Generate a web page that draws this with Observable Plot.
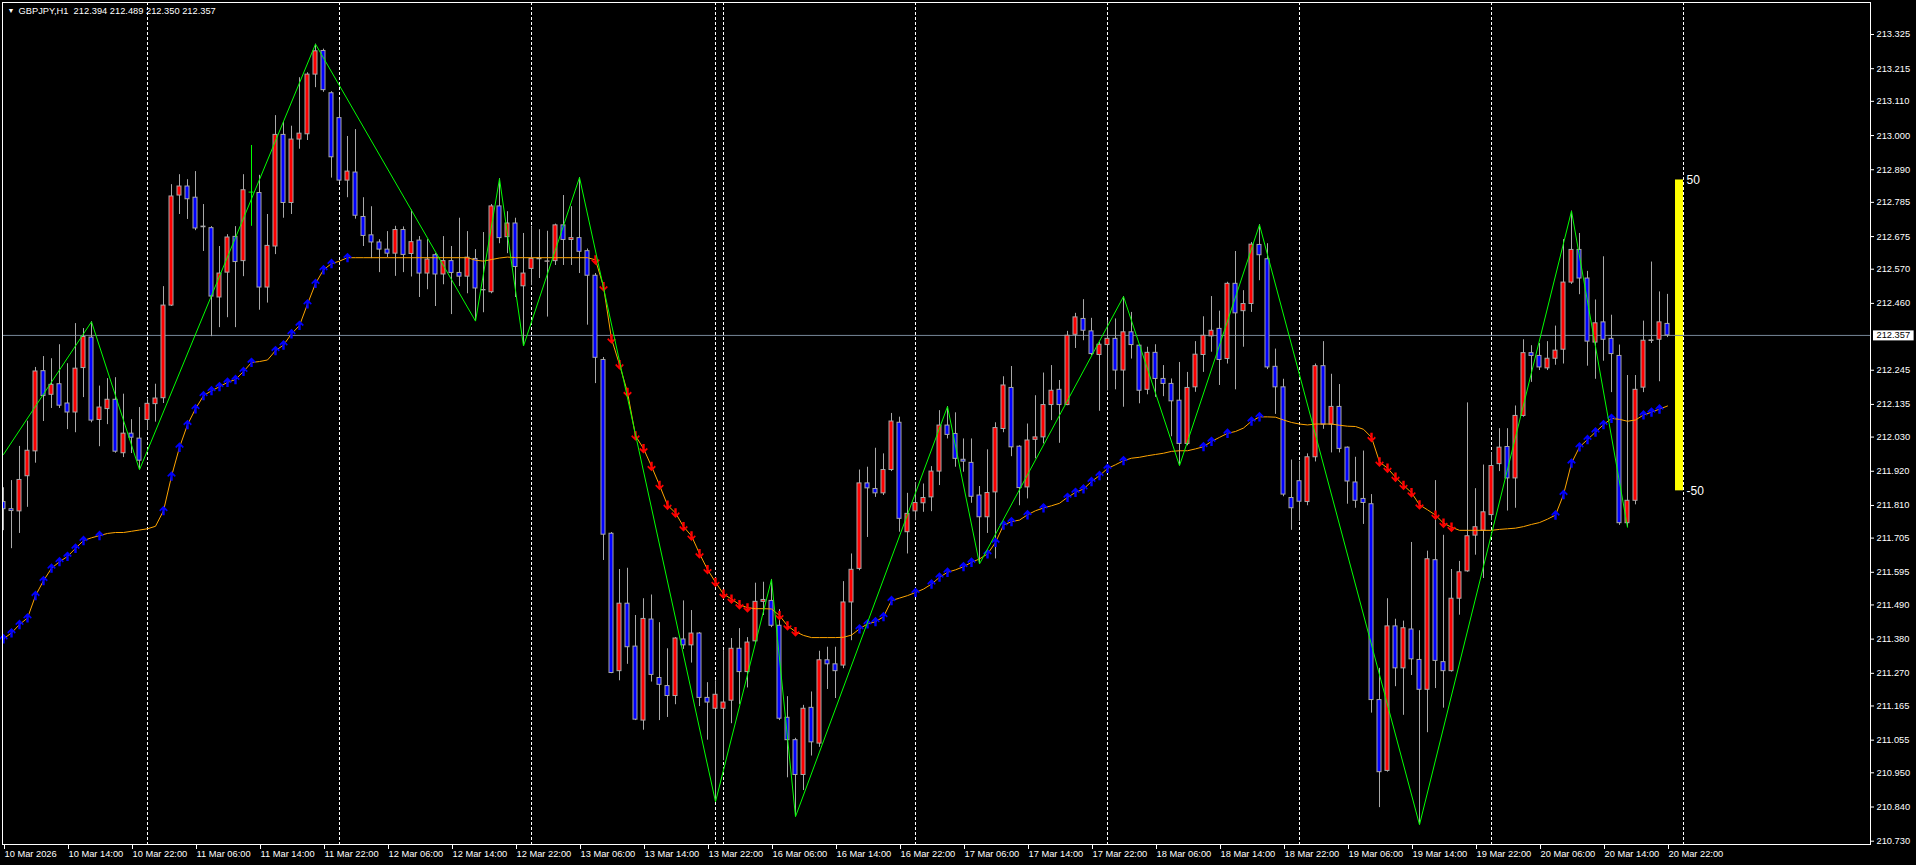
<!DOCTYPE html>
<html><head><meta charset="utf-8">
<script src="https://cdn.jsdelivr.net/npm/d3@7"></script>
<script src="https://cdn.jsdelivr.net/npm/@observablehq/plot@0.6"></script>
<style>html,body{margin:0;padding:0;background:#000;overflow:hidden}</style>
</head><body>
<script>
const symbolName = "GBPJPY", timeframe = "H1";

const open = [
211.821,211.798,211.791,211.904,211.984,212.242,212.166,212.200,212.138,212.109,
212.252,212.350,212.085,212.120,212.150,211.978,212.041,212.025,212.085,212.136,
212.155,212.453,212.807,212.836,212.800,212.707,212.702,212.479,212.559,212.674,
212.596,212.818,212.815,212.511,212.643,213.002,212.783,212.987,213.004,213.196,
213.272,213.136,213.056,212.855,212.881,212.738,212.679,212.656,212.633,212.620,
212.696,212.619,212.662,212.556,212.615,212.553,212.596,212.558,212.546,212.603,
212.503,212.496,212.772,212.673,212.717,212.515,212.571,212.602,212.594,212.596,
212.711,212.664,212.670,212.628,212.549,212.278,211.719,211.277,211.494,211.356,
211.118,211.443,211.255,211.229,211.197,211.379,211.360,211.398,211.191,211.156,
211.156,211.182,211.349,211.274,211.373,211.500,211.503,211.423,211.127,211.055,
210.943,211.159,211.044,211.312,211.299,211.295,211.498,211.606,211.881,211.863,
211.849,211.924,212.076,211.724,211.791,211.817,211.836,211.919,212.067,212.040,
211.957,211.947,211.842,211.772,211.852,212.056,212.188,211.999,211.868,212.021,
212.029,212.133,212.182,212.133,212.359,212.410,212.370,212.294,212.326,212.346,
212.244,212.367,212.324,212.182,212.301,212.217,212.201,212.147,212.008,212.190,
212.294,212.354,212.378,212.281,212.523,212.435,212.458,212.648,212.602,212.256,
212.190,211.834,211.888,211.821,211.965,212.258,212.070,212.127,211.996,211.884,
211.831,211.814,211.184,210.956,211.421,211.286,211.411,211.313,211.217,211.634,
211.306,211.277,211.510,211.598,211.713,211.729,211.779,211.943,211.998,211.897,
212.098,212.300,212.291,212.251,212.282,212.311,212.527,212.632,212.540,212.334,
212.399,212.346,212.291,211.753,211.825,212.189,212.339,212.343,212.394];

const high = [
211.867,211.890,212.000,212.081,212.254,212.289,212.282,212.327,212.266,212.395,
212.379,212.401,212.194,212.218,212.221,212.168,212.086,212.125,212.154,212.200,
212.514,212.842,212.874,212.858,212.884,212.778,212.707,212.643,212.681,212.707,
212.874,212.968,212.872,212.746,213.064,213.042,213.030,213.186,213.202,213.294,
213.278,213.141,213.114,212.997,213.019,212.800,212.771,212.665,212.691,212.708,
212.706,212.760,212.675,212.665,212.620,212.675,212.643,212.734,212.691,212.633,
212.688,212.778,212.861,212.755,212.734,212.685,212.708,212.697,212.692,212.715,
212.807,212.771,212.865,212.635,212.556,212.286,211.723,211.604,211.608,211.456,
211.510,211.522,211.433,211.349,211.385,211.503,211.472,211.401,211.240,211.246,
211.343,211.382,211.414,211.385,211.560,211.563,211.572,211.475,211.195,211.061,
211.167,211.210,211.341,211.354,211.354,211.565,211.654,211.924,211.933,211.994,
211.976,212.106,212.094,211.849,211.884,211.879,211.935,212.115,212.128,212.108,
212.024,212.024,211.871,211.989,212.076,212.224,212.257,212.002,212.072,212.163,
212.236,212.260,212.212,212.370,212.428,212.472,212.412,212.335,212.405,212.410,
212.482,212.431,212.327,212.319,212.327,212.260,212.217,212.270,212.238,212.337,
212.417,212.482,212.435,212.528,212.627,212.501,212.656,212.713,212.652,212.313,
212.216,211.956,211.952,211.976,212.265,212.337,212.232,212.199,211.998,211.965,
211.985,211.845,211.286,211.510,211.444,211.438,211.691,211.407,211.663,211.890,
211.714,211.604,211.630,212.140,211.864,211.940,211.980,212.057,212.057,212.130,
212.343,212.324,212.331,212.337,212.387,212.665,212.757,212.685,212.563,212.471,
212.610,212.422,212.326,212.228,212.228,212.403,212.593,212.497,212.489];

const low = [
211.729,211.671,211.720,211.804,211.946,212.080,212.122,212.122,212.054,212.044,
212.157,212.076,211.999,212.070,211.978,211.964,211.977,211.925,212.051,212.078,
212.138,212.450,212.746,212.730,212.694,212.627,212.353,212.382,212.414,212.382,
212.546,212.708,212.438,212.461,212.617,212.734,212.746,212.956,212.984,213.154,
213.139,212.863,212.849,212.800,212.731,212.643,212.604,212.559,212.607,212.547,
212.559,212.545,212.479,212.504,212.450,212.520,212.424,212.514,212.491,212.403,
212.430,212.491,212.652,212.620,212.479,212.323,212.517,212.540,212.416,212.582,
212.582,212.582,212.556,212.390,212.202,211.633,211.269,211.246,211.299,211.118,
211.087,211.242,211.118,211.128,211.169,211.347,211.303,211.163,211.055,210.857,
210.989,211.108,211.169,211.223,211.366,211.456,211.417,211.118,210.934,210.809,
210.893,211.004,211.032,211.218,211.189,211.285,211.375,211.600,211.707,211.836,
211.842,211.919,211.724,211.654,211.761,211.788,211.790,211.874,212.024,211.933,
211.917,211.817,211.622,211.720,211.638,212.044,211.967,211.809,211.831,211.960,
212.008,212.083,212.010,212.131,212.315,212.340,212.292,212.113,212.179,212.182,
212.126,212.281,212.137,212.166,212.158,212.160,212.031,211.938,212.002,212.174,
212.238,212.303,212.196,212.265,212.182,212.319,212.431,212.533,212.247,212.103,
211.838,211.730,211.759,211.809,211.950,212.055,211.979,211.979,211.814,211.801,
211.749,211.142,210.838,210.952,211.227,211.135,211.263,210.783,211.079,211.221,
211.158,211.274,211.457,211.595,211.650,211.575,211.761,211.919,211.792,211.801,
212.094,212.206,212.244,212.244,212.261,212.265,212.521,212.488,212.258,212.216,
212.274,212.173,211.746,211.740,211.812,212.173,212.331,212.208,212.350];

const close = [
211.798,211.792,211.892,211.986,212.241,212.162,212.198,212.131,212.109,212.250,
212.352,212.083,212.125,212.150,211.983,212.041,212.028,211.954,212.137,212.154,
212.453,212.804,212.836,212.795,212.701,212.705,212.482,212.556,212.672,212.593,
212.824,212.818,212.511,212.645,213.002,212.783,212.987,213.006,213.196,213.271,
213.146,212.930,212.855,212.884,212.742,212.677,212.656,212.633,212.620,212.696,
212.616,212.657,212.556,212.601,212.553,212.596,212.558,212.546,212.607,212.508,
212.502,212.772,212.670,212.717,212.577,212.556,212.603,212.604,212.595,212.711,
212.664,212.670,212.626,212.549,212.285,211.716,211.271,211.494,211.354,211.121,
211.445,211.265,211.233,211.197,211.382,211.360,211.398,211.191,211.176,211.201,
211.176,211.349,211.274,211.369,211.500,211.506,211.423,211.124,211.055,210.943,
211.156,211.048,211.312,211.299,211.277,211.498,211.603,211.881,211.865,211.849,
211.924,212.080,211.767,211.783,211.818,211.834,211.919,212.067,212.037,211.960,
211.951,211.838,211.772,211.850,212.059,212.196,211.997,211.866,212.019,212.029,
212.133,212.179,212.133,212.356,212.415,212.372,212.297,212.327,212.346,212.244,
212.367,212.326,212.179,212.301,212.217,212.201,212.145,212.008,212.188,212.295,
212.356,212.372,212.278,212.523,212.428,212.458,212.649,212.615,212.254,212.190,
211.845,211.801,211.822,211.965,212.258,212.070,212.127,211.992,211.887,211.825,
211.818,211.184,210.952,211.421,211.286,211.415,211.315,211.217,211.637,211.310,
211.277,211.510,211.595,211.711,211.740,211.788,211.937,211.996,211.897,212.098,
212.300,212.291,212.254,212.282,212.308,212.527,212.632,212.540,212.337,212.396,
212.343,212.297,211.753,211.825,212.182,212.340,212.341,212.399,212.357];

const maLine = [
211.381,211.400,211.427,211.448,211.520,211.568,211.608,211.629,211.646,211.672,
211.697,211.706,211.713,211.720,211.723,211.723,211.727,211.731,211.735,211.743,
211.793,211.904,211.997,212.070,212.121,212.163,212.179,212.192,212.206,212.215,
212.241,212.270,212.273,212.278,212.308,212.326,212.362,212.389,212.458,212.524,
212.568,212.588,212.596,212.607,212.607,212.607,212.607,212.607,212.607,212.607,
212.607,212.607,212.607,212.607,212.607,212.607,212.607,212.607,212.607,212.599,
212.596,212.601,212.606,212.609,212.607,212.607,212.607,212.607,212.607,212.607,
212.607,212.607,212.607,212.607,212.600,212.514,212.346,212.263,212.174,212.034,
211.993,211.936,211.875,211.811,211.786,211.742,211.712,211.655,211.604,211.563,
211.525,211.509,211.491,211.481,211.478,211.478,211.477,211.456,211.423,211.404,
211.392,211.385,211.385,211.385,211.385,211.386,211.393,211.413,211.429,211.436,
211.452,211.504,211.512,211.520,211.530,211.541,211.557,211.579,211.595,211.603,
211.613,211.627,211.638,211.654,211.691,211.747,211.758,211.763,211.780,211.793,
211.802,211.809,211.817,211.836,211.852,211.863,211.887,211.906,211.929,211.941,
211.954,211.962,211.965,211.970,211.974,211.978,211.984,211.986,211.986,211.992,
211.999,212.016,212.029,212.042,212.048,212.059,212.081,212.095,212.095,212.094,
212.085,212.077,212.072,212.069,212.072,212.072,212.072,212.068,212.065,212.064,
212.055,212.029,211.950,211.930,211.901,211.875,211.851,211.812,211.796,211.779,
211.753,211.740,211.730,211.730,211.730,211.730,211.730,211.733,211.735,211.737,
211.742,211.749,211.755,211.766,211.779,211.845,211.946,211.998,212.022,212.046,
212.070,212.090,212.087,212.081,212.085,212.101,212.110,212.120,212.130];

const upArrowBars = [0,1,2,3,4,5,6,7,8,9,10,12,20,21,22,23,24,25,26,27,28,29,30,31,34,35,36,37,38,39,40,41,43,
  107,108,109,110,111,114,116,117,118,120,121,123,124,125,126,128,130,133,134,135,136,137,138,140,150,151,153,156,157,
  194,195,196,197,198,199,200,201,205,206,207];
const downArrowBars = [74,75,76,77,78,79,80,81,82,83,84,85,86,87,88,89,90,91,92,93,97,98,99,
  171,172,173,174,175,176,177,179,180,181];

const zigzagBars   = [0, 11, 17, 39, 59, 62, 65, 72, 89, 96, 99, 118, 122, 140, 147, 157, 177, 196, 203];
const zigzagPrices = [211.974,212.401,211.925,213.294,212.403,212.861,212.323,212.865,210.857,211.572,210.809,
  212.128,211.622,212.482,211.938,212.713,210.783,212.757,211.740];

const separatorBars = [18, 42, 66, 89, 90, 114, 138, 162, 186, 210];

const timeTickBars = [0,8,16,24,32,40,48,56,64,72,80,88,96,104,112,120,128,136,144,152,160,168,176,184,192,200,208];
const timeLabels = ["10 Mar 2026","10 Mar 14:00","10 Mar 22:00","11 Mar 06:00","11 Mar 14:00","11 Mar 22:00",
  "12 Mar 06:00","12 Mar 14:00","12 Mar 22:00","13 Mar 06:00","13 Mar 14:00","13 Mar 22:00",
  "16 Mar 06:00","16 Mar 14:00","16 Mar 22:00","17 Mar 06:00","17 Mar 14:00","17 Mar 22:00",
  "18 Mar 06:00","18 Mar 14:00","18 Mar 22:00","19 Mar 06:00","19 Mar 14:00","19 Mar 22:00",
  "20 Mar 06:00","20 Mar 14:00","20 Mar 22:00"];

const priceTicks = [213.325,213.215,213.110,213.000,212.890,212.785,212.675,212.570,212.460,212.245,212.135,
  212.030,211.920,211.810,211.705,211.595,211.490,211.380,211.270,211.165,211.055,210.950,210.840,210.730];

const bandHalf = 0.500;
const bandLabels = ["50", "-50"];

// ---------- build ----------
const N = open.length;
const last = N - 1;
const bid = close[last];
const bars = d3.range(N).map(i => ({i, o: open[i], h: high[i], l: low[i], c: close[i]}));
const dojis = bars.filter(d => d.o === d.c);
const wickColor = "#a8a8a8";
const stroke = d => d.o === d.c ? "#00ff00" : wickColor;
const fill = d => d.c > d.o ? "#ff0000" : d.c < d.o ? "#0000ff" : "#00ff00";
const maPts = maLine.map((v, i) => ({i, v}));
const zz = zigzagBars.map((b, k) => ({i: b, v: zigzagPrices[k]}));
const band = [{x1: N, x2: N + 1, y1: bid - bandHalf, y2: bid + bandHalf}];
const bandText = [{x: N + 1, y: bid + bandHalf, t: bandLabels[0]}, {x: N + 1, y: bid - bandHalf, t: bandLabels[1]}];
const fmt = v => v.toFixed(3);
const title = `${symbolName},${timeframe}\u00a0\u00a0${fmt(open[last])} ${fmt(high[last])} ${fmt(low[last])} ${fmt(close[last])}`;

function arrowSymbol(dir) {
  return {
    draw(ctx, size) {
      const r = Math.sqrt(size / Math.PI) / 5;
      const pts = [[0,-5],[4.3,-0.6],[3.3,0.8],[1.2,-1.3],[1.2,4.6],[-1.2,4.6],[-1.2,-1.3],[-3.3,0.8],[-4.3,-0.6]];
      pts.forEach(([x, y], k) => { const X = x * r, Y = dir * y * r; k ? ctx.lineTo(X, Y) : ctx.moveTo(X, Y); });
      ctx.closePath();
    }
  };
}

const chart = Plot.plot({
  width: 1916, height: 865,
  marginLeft: 2, marginTop: 2, marginRight: 46, marginBottom: 21,
  style: {background: "#000", color: "#fff", fontFamily: "Liberation Sans, Arial, sans-serif", fontSize: "9.3px", overflow: "visible"},
  x: {type: "linear", domain: [0, 208], range: [3, 1667]},
  y: {type: "linear", domain: [210.730, 213.325], range: [840.7, 34]},
  marks: [
    Plot.ruleX(separatorBars, {x: d => d, stroke: "#fff", strokeDasharray: "3,2"}),
    Plot.rect(band, {x1: "x1", x2: "x2", y1: "y1", y2: "y2", fill: "#ffff00"}),
    Plot.ruleY([bid], {y: d => d, stroke: "#778899"}),
    Plot.ruleX(bars, {x: "i", y1: "l", y2: "h", stroke, clip: true}),
    Plot.rect(bars, {x1: d => d.i - 0.25, x2: d => d.i + 0.25, y1: "o", y2: "c", fill, stroke, strokeWidth: 1, clip: true}),
    Plot.ruleY(dojis, {y: "o", x1: d => d.i - 0.3, x2: d => d.i + 0.3, stroke: "#00ff00", clip: true}),
    Plot.line(maPts, {x: "i", y: "v", stroke: "#ffa500", strokeWidth: 1, clip: true}),
    Plot.dot(upArrowBars.map(i => maPts[i]), {x: "i", y: "v", r: 5, symbol: arrowSymbol(1), fill: "#0000ff", stroke: "none"}),
    Plot.dot(downArrowBars.map(i => maPts[i]), {x: "i", y: "v", r: 5, symbol: arrowSymbol(-1), fill: "#ff0000", stroke: "none"}),
    Plot.line(zz, {x: "i", y: "v", stroke: "#00ff00", strokeWidth: 1, clip: true}),
    Plot.text(bandText, {x: "x", y: "y", text: "t", dx: 3, textAnchor: "start", fill: "#fff", fontSize: 12}),
    Plot.frame({stroke: "#fff"}),
    Plot.axisY({ticks: priceTicks, anchor: "right", tickSize: 3, tickPadding: 3, tickFormat: fmt, label: null, stroke: "#fff", fill: "#fff"}),
    Plot.axisX({ticks: timeTickBars, anchor: "bottom", tickSize: 5, tickPadding: 1, textAnchor: "start", dx: 1,
      tickFormat: d => timeLabels[timeTickBars.indexOf(d)], label: null, stroke: "#fff", fill: "#fff"}),
    Plot.text([title], {frameAnchor: "top-left", dx: 16, dy: 5, lineAnchor: "top", textAnchor: "start", fill: "#fff"}),
    Plot.text(["\u25BC"], {frameAnchor: "top-left", dx: 5, dy: 5.5, lineAnchor: "top", textAnchor: "start", fill: "#fff", fontSize: 7}),
    Plot.text([bid], {y: d => d, frameAnchor: "right", dx: 6, textAnchor: "start", text: d => fmt(d), fill: "#000"})
  ]
});
document.body.append(chart);

// white box behind current price label
const svgBox = chart.getBoundingClientRect();
d3.select(chart).selectAll("text").filter(function() {
  return this.textContent === fmt(bid) && this.getAttribute("fill") !== "#fff";
}).each(function() {
  const b = this.getBoundingClientRect();
  const cy = b.top - svgBox.top + b.height / 2;
  d3.select(chart).append("rect")
    .attr("x", b.left - svgBox.left - 3.5).attr("y", cy - 5)
    .attr("width", b.width + 7).attr("height", 10).attr("fill", "#fff");
  chart.append(this.parentNode.tagName === "g" ? this.parentNode : this);
});
</script>
</body></html>
